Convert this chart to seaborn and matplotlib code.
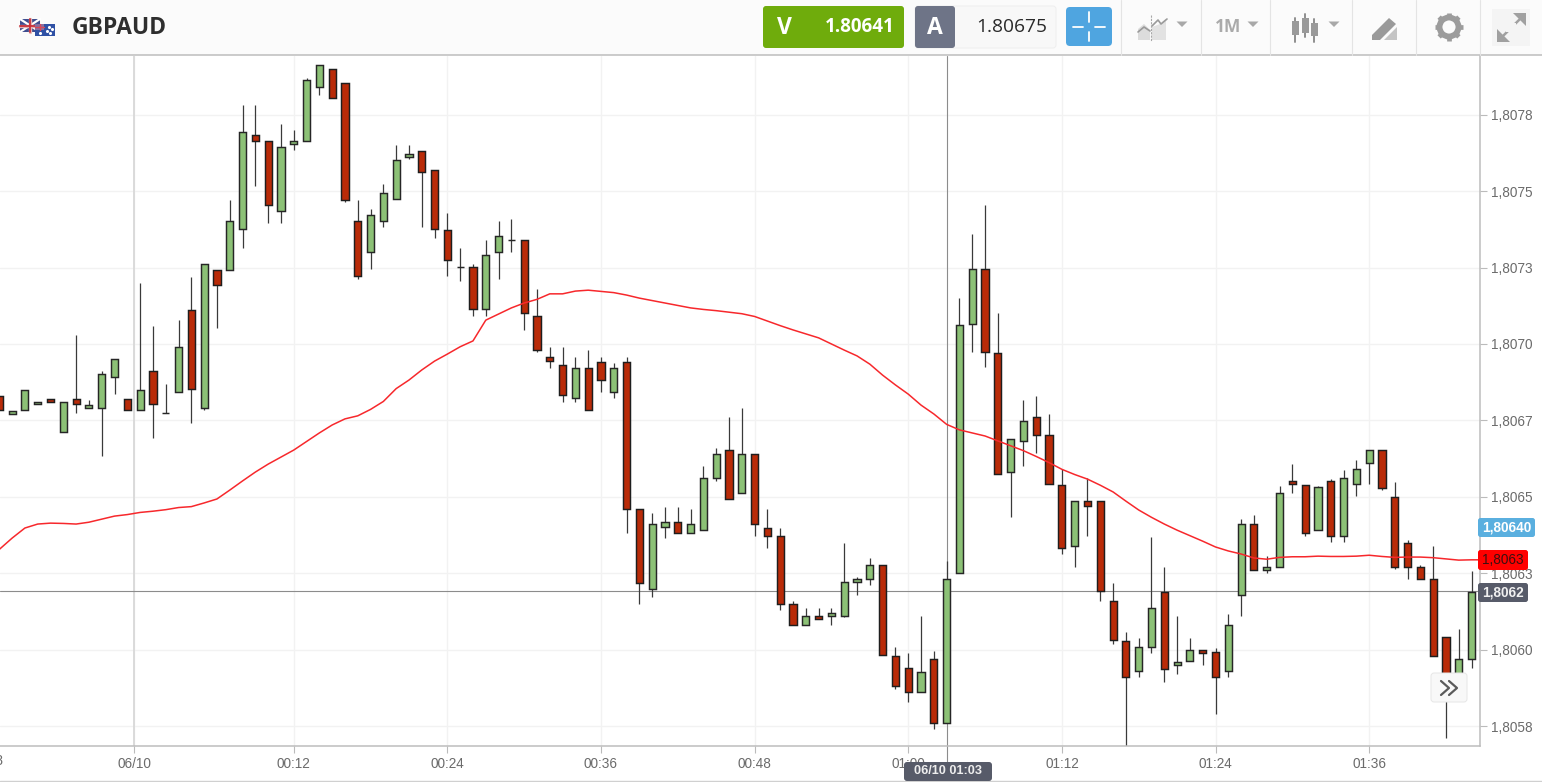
import numpy as np
import pandas as pd
import matplotlib
matplotlib.use("Agg")
import matplotlib.pyplot as plt
import seaborn as sns
from matplotlib.patches import Rectangle, FancyBboxPatch, Circle, Polygon

W, H = 1542, 782

# one candle per minute, minute 0 = 00:00 on 06/10
minutes = np.arange(-11, 105)

# prices as points above 1.80000 (1 point = 0.00001)
opens = [683.0, 677.1, 678.3, 680.3, 682.0, 671.3, 681.9, 679.1, 679.2, 689.3, 681.9, 678.3,
         691.2, 677.3, 684.2, 711.1, 679.2, 724.3, 724.3, 737.6, 768.3, 766.3, 743.4, 765.4,
         766.3, 784.2, 790.0, 785.3, 740.2, 730.2, 740.3, 747.3, 761.3, 763.2, 757.0, 737.2,
         725.2, 725.1, 711.4, 730.1, 734.1, 734.1, 709.1, 695.9, 693.1, 682.2, 692.0, 694.0,
         684.2, 694.0, 646.1, 619.9, 640.2, 641.8, 638.2, 639.1, 656.3, 665.2, 651.1, 664.0,
         639.9, 637.2, 614.9, 608.0, 611.0, 611.0, 610.9, 622.0, 623.1, 627.8, 597.8, 593.9,
         586.1, 597.0, 576.0, 625.0, 706.5, 724.4, 697.1, 658.2, 668.3, 676.0, 670.2, 653.8,
         634.0, 648.8, 648.8, 616.0, 602.8, 593.1, 600.9, 618.8, 595.0, 596.2, 599.8, 599.1,
         593.1, 618.0, 641.1, 626.1, 627.0, 655.2, 654.0, 639.0, 655.1, 637.1, 654.2, 661.2,
         665.2, 649.9, 634.8, 627.0, 623.1, 604.0, 591.1, 597.0]
highs = [683.0, 678.1, 685.1, 681.1, 682.0, 681.1, 702.8, 681.7, 691.1, 695.1, 681.9, 719.9,
         705.9, 686.9, 707.9, 721.8, 726.3, 724.3, 747.1, 778.3, 778.3, 766.3, 772.0, 770.1,
         787.1, 791.3, 790.0, 785.3, 747.1, 744.1, 752.2, 765.1, 765.1, 763.2, 757.0, 742.7,
         731.3, 726.0, 733.9, 740.2, 740.9, 734.1, 718.0, 698.9, 698.9, 695.8, 698.1, 695.8,
         693.9, 695.8, 646.1, 644.8, 646.8, 646.8, 646.0, 660.0, 665.9, 676.0, 679.1, 664.0,
         646.0, 639.7, 615.9, 613.7, 613.7, 613.7, 634.8, 623.9, 630.1, 627.8, 600.8, 598.9,
         611.0, 599.6, 628.9, 714.9, 735.9, 745.3, 710.2, 669.0, 681.7, 682.9, 677.2, 659.0,
         648.8, 656.0, 648.8, 621.9, 605.8, 603.8, 637.0, 626.9, 610.9, 603.8, 599.8, 600.7,
         611.7, 642.8, 644.0, 630.7, 653.7, 660.8, 654.0, 653.7, 655.9, 658.9, 661.9, 665.2,
         665.2, 655.0, 635.9, 627.7, 634.0, 604.0, 606.7, 625.7]
lows = [678.4, 677.1, 678.3, 680.3, 681.0, 671.3, 677.3, 679.1, 663.4, 683.5, 678.4, 678.3,
        669.1, 677.3, 684.2, 674.3, 678.4, 705.3, 724.3, 731.4, 751.7, 739.6, 739.6, 763.3,
        766.3, 781.6, 780.4, 746.6, 721.2, 724.4, 738.4, 747.3, 760.5, 738.4, 734.6, 722.4,
        720.5, 709.1, 709.1, 721.2, 730.1, 704.6, 697.5, 692.3, 681.1, 681.1, 678.4, 684.2,
        682.2, 638.2, 615.1, 617.3, 636.4, 638.2, 638.2, 639.1, 655.1, 649.2, 651.1, 637.2,
        633.2, 613.1, 608.0, 608.0, 610.2, 608.0, 610.6, 618.0, 621.1, 598.2, 587.0, 583.0,
        586.1, 574.1, 576.0, 625.0, 697.4, 692.4, 657.5, 643.3, 660.0, 664.5, 654.3, 631.4,
        627.0, 637.1, 615.9, 602.0, 567.0, 591.2, 598.9, 589.3, 591.9, 596.2, 595.1, 579.1,
        591.1, 611.0, 626.1, 625.0, 627.0, 651.1, 637.1, 639.0, 635.1, 635.1, 650.4, 654.2,
        652.2, 626.3, 623.1, 623.1, 598.1, 571.0, 591.1, 593.9]
closes = [678.4, 678.1, 685.1, 681.1, 681.0, 681.1, 680.4, 680.0, 690.1, 695.1, 678.4, 685.1,
          680.4, 677.3, 699.1, 685.4, 726.3, 719.3, 740.2, 769.2, 766.3, 745.3, 764.5, 766.4,
          786.2, 791.3, 780.4, 747.2, 722.4, 742.2, 749.3, 760.1, 762.1, 756.3, 737.5, 727.6,
          725.2, 711.4, 729.0, 735.2, 734.1, 710.2, 698.1, 694.3, 683.4, 692.0, 678.4, 688.1,
          692.0, 646.1, 621.9, 641.1, 641.8, 638.2, 641.1, 656.3, 664.0, 649.2, 664.0, 641.0,
          637.2, 615.0, 608.0, 611.0, 610.2, 611.9, 622.0, 623.1, 627.8, 598.2, 588.1, 586.1,
          592.7, 576.0, 623.1, 706.1, 724.4, 697.4, 657.5, 669.0, 674.8, 670.2, 654.3, 633.2,
          648.8, 647.1, 619.1, 603.2, 591.2, 600.9, 613.7, 593.8, 595.9, 599.8, 598.9, 591.1,
          608.0, 641.1, 626.1, 627.0, 651.1, 654.2, 638.3, 653.1, 637.1, 656.1, 659.0, 665.2,
          653.0, 626.9, 627.0, 623.1, 598.1, 590.6, 597.0, 618.9]

# moving average, one extra minute so it runs up to the price axis
ma_minutes = np.arange(-11, 106)
ma_values = [632.8, 636.5, 639.8, 641.1, 641.4, 641.3, 641.1, 641.7, 642.7, 643.7, 644.2, 644.9,
             645.3, 645.8, 646.5, 646.8, 648.0, 649.3, 652.2, 655.2, 658.1, 660.7, 663.0, 665.3,
             668.1, 670.9, 673.5, 675.5, 676.5, 678.6, 681.2, 685.4, 688.2, 691.5, 694.4, 696.7,
             699.1, 701.0, 707.8, 709.8, 711.8, 713.4, 714.6, 716.4, 716.4, 717.3, 717.6, 717.2,
             716.8, 716.0, 715.0, 714.2, 713.4, 712.6, 711.8, 711.3, 710.9, 710.4, 709.9, 709.0,
             707.5, 706.0, 704.6, 703.3, 702.0, 700.0, 698.0, 696.1, 693.4, 689.8, 686.6, 683.6,
             680.0, 677.1, 673.7, 671.9, 670.9, 669.9, 668.3, 666.7, 665.1, 663.2, 661.2, 659.0,
             657.3, 655.8, 653.8, 651.6, 648.6, 645.7, 643.3, 641.1, 639.1, 637.3, 635.5, 633.6,
             632.3, 631.3, 630.0, 629.6, 630.2, 630.4, 630.4, 630.6, 630.5, 630.5, 630.6, 630.9,
             630.5, 630.2, 630.3, 630.3, 630.1, 629.7, 629.3, 629.4, 629.4]

price_ticks = [1.80575, 1.80600, 1.80625, 1.80650, 1.80675, 1.80700, 1.80725, 1.80750, 1.80775]
price_labels = ["1,8058", "1,8060", "1,8063", "1,8065", "1,8067", "1,8070", "1,8073", "1,8075", "1,8078"]
time_ticks = [-0.47, 12, 24, 36, 48, 60, 72, 84, 96]
time_labels = ["06/10", "00:12", "00:24", "00:36", "00:48", "01:00", "01:12", "01:24", "01:36"]
cross_minute = 63
cross_price = 1.806193

df = pd.DataFrame({"minute": minutes, "open": opens, "high": highs, "low": lows, "close": closes})
for col in ["open", "high", "low", "close"]:
    df[col] = 1.8 + df[col] / 1e5
ma = pd.DataFrame({"minute": ma_minutes, "ma": 1.8 + np.array(ma_values) / 1e5})

sns.set_style("white")
plt.rcParams["font.family"] = ["Liberation Sans", "DejaVu Sans"]

fig = plt.figure(figsize=(W / 100, H / 100), dpi=100, facecolor="white")
ax = fig.add_axes([0, (H - 746) / H, 1480 / W, 690 / H])

ax.set_xticks(time_ticks)
ax.set_xticklabels(time_labels)
ax.set_yticks(price_ticks)
ax.set_yticklabels(price_labels)
ax.yaxis.tick_right()
ax.tick_params(axis="both", length=5, width=0.8, color="#bbbbbb", labelcolor="#6b6b6b",
               labelsize=9.8, pad=3, bottom=True, right=True, left=False)
ax.grid(True, color="#f2f2f2", lw=1.0)
ax.set_axisbelow(True)
for side in ["top", "left"]:
    ax.spines[side].set_visible(False)
for side in ["bottom", "right"]:
    ax.spines[side].set_color("#bdbdbd")
    ax.spines[side].set_linewidth(1.1)

# day change line and crosshair sit under the candles
ax.axvline(time_ticks[0], color="#d8d8d8", lw=1.3, zorder=1)
ax.axvline(cross_minute, color="#8c8c8c", lw=0.8, zorder=1.5)
ax.plot([cross_minute, cross_minute], [1.805685, 1.80563], color="#8c8c8c", lw=0.8, clip_on=False, zorder=1.5)
ax.axhline(cross_price, color="#8c8c8c", lw=0.8, zorder=1.5)

ax.vlines(df["minute"], df["low"], df["high"], color="#3a3a3a", lw=0.9, zorder=2)
up = df["close"] >= df["open"]
body_bottom = df[["open", "close"]].min(axis=1)
body_height = (df["close"] - df["open"]).abs()
ax.bar(df["minute"][up], body_height[up], bottom=body_bottom[up], width=0.56,
       color="#8cc176", edgecolor="#262626", lw=1.05, zorder=3)
ax.bar(df["minute"][~up], body_height[~up], bottom=body_bottom[~up], width=0.56,
       color="#b92b08", edgecolor="#1e1e1e", lw=1.05, zorder=3)

sns.lineplot(data=ma, x="minute", y="ma", color="#f7282c", lw=1.1, ax=ax, zorder=4, errorbar=None)
ax.set_xlabel("")
ax.set_ylabel("")

# limits last, set_xticks and the marks would widen them otherwise
ax.set_xlim(-10.945, 104.66)
ax.set_ylim(1.805685, 1.807942)

# toolbar, price tags and buttons, drawn in pixel coordinates
ui = fig.add_axes([0, 0, 1, 1], zorder=10)
ui.set_xlim(0, W)
ui.set_ylim(H, 0)
ui.axis("off")
ui.patch.set_alpha(0)


def box(x0, y0, x1, y1, color, radius=0, edge="none", z=2):
    if radius:
        p = FancyBboxPatch((x0 + radius, y0 + radius), x1 - x0 - 2 * radius, y1 - y0 - 2 * radius,
                           boxstyle="round,pad=%g,rounding_size=%g" % (radius, radius),
                           fc=color, ec=edge, lw=0.7, zorder=z)
    else:
        p = Rectangle((x0, y0), x1 - x0, y1 - y0, fc=color, ec=edge, lw=0.7, zorder=z)
    ui.add_patch(p)


def tri(cx, cy, size=5.5):
    ui.add_patch(Polygon([(cx - size, cy - 2.5), (cx + size, cy - 2.5), (cx, cy + 3)], fc="#a8a8a8", ec="none", zorder=3))


box(0, 0, W, 55, "#fbfbfb", z=1)
ui.plot([0, W], [55, 55], color="#bdbdbd", lw=1.1, zorder=2)
ui.plot([0, W], [781, 781], color="#d0d0d0", lw=1.0, zorder=2)
for sx in [1121, 1201, 1270, 1352, 1416, 1480]:
    ui.plot([sx, sx], [0, 55], color="#e4e4e4", lw=0.8, zorder=2)

# clipped label of the tick left of the plot
ui.text(-13.5, 761, "23:48", fontsize=9.8, color="#6b6b6b", ha="center", va="center", clip_on=True, zorder=5)

# flags
box(20, 19, 40, 32, "#3f4d8f")
ui.plot([20, 40], [19, 32], color="white", lw=1.6, zorder=3)
ui.plot([20, 40], [32, 19], color="white", lw=1.6, zorder=3)
ui.plot([30, 30], [19, 32], color="#e2b4b4", lw=2.4, zorder=3)
ui.plot([20, 40], [25.5, 25.5], color="#e2b4b4", lw=2.4, zorder=3)
ui.plot([30, 30], [19, 32], color="#c9303a", lw=1.3, zorder=3)
ui.plot([20, 40], [25.5, 25.5], color="#c9303a", lw=1.3, zorder=3)
box(35, 24, 55, 36, "#2f51a5", z=4)
box(35, 24, 44, 30, "#8a6f9e", z=5)
ui.plot([35, 44], [27, 27], color="#d8485a", lw=1, zorder=6)
ui.plot([39.5, 39.5], [24, 30], color="#d8485a", lw=1, zorder=6)
ui.scatter([49, 52, 47, 50, 40], [27, 29, 31, 33, 33], s=1.5, color="white", zorder=6)

ui.text(72, 27.5, "GBPAUD", family="Open Sans", weight="bold", fontsize=16.5, color="#2e2e2e", va="center", ha="left", zorder=5)

# sell / buy
box(763, 6, 904, 48, "#6fac0c", radius=3)
ui.text(784, 27.5, "V", family="Open Sans", weight="bold", fontsize=16.5, color="white", ha="center", va="center", zorder=5)
ui.text(895, 27, "1.80641", family="Open Sans", weight="bold", fontsize=13.5, color="white", ha="right", va="center", zorder=5)
box(915, 6, 1056, 48, "#f8f8f8", radius=3, edge="#eeeeee")
box(915, 6, 955, 48, "#6e7487", radius=3, z=3)
ui.text(935, 27.5, "A", family="Open Sans", weight="bold", fontsize=16.5, color="white", ha="center", va="center", zorder=5)
ui.text(1047, 27, "1.80675", family="Open Sans", fontsize=13.8, color="#2a2a2a", ha="right", va="center", zorder=5)

# crosshair button
box(1066, 7, 1112, 46, "#4fa5e0", radius=4)
for seg in [([1089, 1089], [12, 22]), ([1089, 1089], [32, 41]), ([1073, 1083], [27, 27]), ([1095, 1105], [27, 27])]:
    ui.plot(seg[0], seg[1], color="white", lw=1.3, zorder=4)

# chart type icon
ui.add_patch(Polygon([(1138, 40), (1138, 29), (1144, 24), (1150, 30), (1150, 40)], fc="#dcdcdc", ec="none", zorder=3))
ui.add_patch(Polygon([(1152, 40), (1152, 27), (1160, 24), (1166, 19), (1166, 40)], fc="#e2e2e2", ec="none", zorder=3))
ui.plot([1138, 1144, 1150], [32, 27, 31], color="#9a9a9a", lw=1.2, zorder=4)
ui.plot([1152, 1158, 1161, 1167], [26, 20, 24, 19], color="#9a9a9a", lw=1.2, zorder=4)
ui.plot([1151, 1151], [15, 41], color="#a8a8a8", lw=0.8, ls=(0, (2, 1)), zorder=4)
tri(1182, 24)
ui.text(1228, 27.5, "1M", family="Open Sans", weight="bold", fontsize=12.5, color="#aaaaaa", ha="center", va="center", zorder=5)
tri(1253, 24)

# candle icon
for cx, top, bot, lo, hi in [(1295, 21, 35, 18, 42), (1305, 18, 33, 14, 37), (1314, 23, 36, 19, 42)]:
    ui.plot([cx, cx], [lo, hi], color="#8f8f8f", lw=1.4, zorder=3)
    box(cx - 3.5, top, cx + 3.5, bot, "#9a9a9a", z=4)
tri(1334, 24)

# draw icon
ui.add_patch(Polygon([(1372, 35), (1389, 18), (1396, 24), (1380, 40), (1372, 40)], fc="#9a9a9a", ec="none", zorder=3))
ui.add_patch(Polygon([(1384, 40), (1397, 27), (1397, 40)], fc="#c4c4c4", ec="none", zorder=3))

# settings gear
ui.add_patch(Circle((1449, 27), 9.5, fc="none", ec="#9c9c9c", lw=4.2, zorder=3))
for a in np.deg2rad(np.arange(0, 360, 45)):
    ui.plot([1449 + 10 * np.cos(a), 1449 + 14 * np.cos(a)], [27 + 10 * np.sin(a), 27 + 14 * np.sin(a)],
            color="#9c9c9c", lw=3.4, solid_capstyle="butt", zorder=3)

# fullscreen
box(1492, 9, 1530, 46, "#f4f4f4")
ui.plot([1500, 1523], [39, 16], color="#a0a0a0", lw=1.8, zorder=3)
ui.add_patch(Polygon([(1497, 29), (1497, 42), (1510, 42)], fc="#a0a0a0", ec="none", zorder=4))
ui.add_patch(Polygon([(1513, 13), (1526, 13), (1526, 26)], fc="#a0a0a0", ec="none", zorder=4))
box(1506, 23, 1516, 32, "#f4f4f4", z=5)

# price tags
box(1478, 518, 1535, 537, "#5aafdf", radius=2.5)
ui.text(1507, 527.5, "1,80640", fontsize=9.8, weight="bold", color="white", ha="center", va="center", zorder=5)
box(1478, 550, 1528, 570, "#ff0000", radius=2.5)
ui.text(1503, 560, "1,8063", fontsize=9.8, color="#3a1010", ha="center", va="center", zorder=5)
box(1478, 583, 1528, 602, "#575b69", radius=2.5)
ui.text(1503, 592.5, "1,8062", fontsize=9.8, weight="bold", color="#f0f0f0", ha="center", va="center", zorder=5)

# crosshair date tag
box(904, 762, 992, 781, "#575b69", radius=3)
ui.text(948, 771.5, "06/10 01:03", fontsize=9.2, weight="bold", color="#eeeeee", ha="center", va="center", zorder=5)

# scroll button
box(1431, 673, 1467, 702, "#f8f8f8", radius=3, edge="#e6e6e6", z=6)
for ox in [1441, 1449]:
    ui.plot([ox, ox + 8, ox], [681, 688, 695], color="#5a5a5a", lw=1.6, zorder=7)

fig.savefig("out.png", dpi=100)
